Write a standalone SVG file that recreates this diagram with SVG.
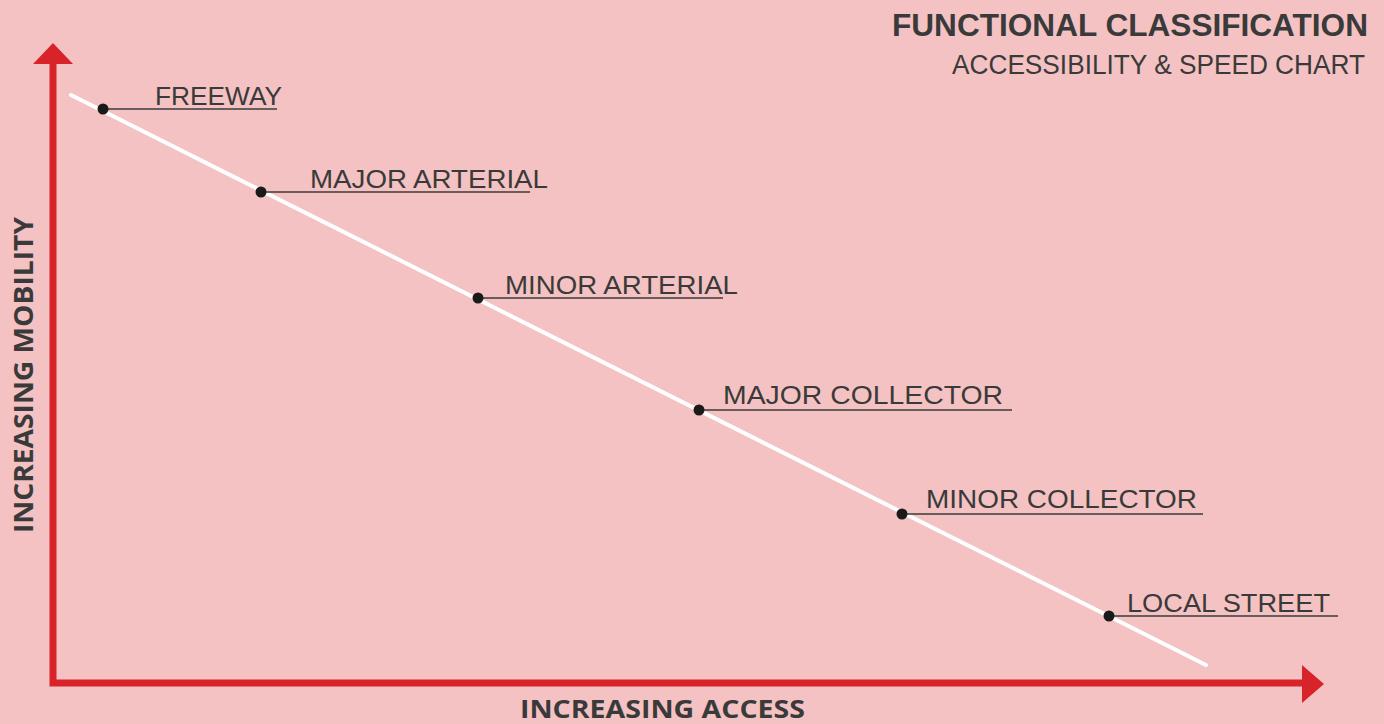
<svg xmlns="http://www.w3.org/2000/svg" width="1384" height="724" viewBox="0 0 1384 724">
  <style>
    .bg { fill: #F4C2C2; }
    .axis { stroke: #D8232A; stroke-width: 7; fill: none; }
    .head { fill: #D8232A; }
    .trend { stroke: #FFFFFF; stroke-width: 4; stroke-linecap: round; }
    .dot { fill: #1A1A1A; }
    .rule { stroke: #3A3A3A; stroke-width: 1.6; }
    .label { font-family: "Liberation Sans", Arial, sans-serif; font-size: 26px; fill: #3A3A3A; }
    .axis-label { font-family: "Open Sans", "Liberation Sans", sans-serif; font-weight: 700; font-size: 27px; fill: #3A3A3A; }
    .axis-label.bottom { font-size: 25px; }
    .title { font-family: "Liberation Sans", Arial, sans-serif; font-weight: 700; font-size: 31px; fill: #3A3A3A; }
    .subtitle { font-family: "Liberation Sans", Arial, sans-serif; font-size: 27px; fill: #3A3A3A; }
  </style>

  <rect class="bg" x="0" y="0" width="1384" height="724"/>

  <!-- heading -->
  <g id="title">
    <text class="title" x="892" y="36" textLength="476" lengthAdjust="spacingAndGlyphs">FUNCTIONAL CLASSIFICATION</text>
    <text class="subtitle" x="952" y="74" textLength="413" lengthAdjust="spacingAndGlyphs">ACCESSIBILITY &amp; SPEED CHART</text>
  </g>

  <!-- axes and the mobility/access trend line -->
  <g id="connectors">
    <path class="axis" d="M53 60 V683 H1304"/>
    <polygon class="head" points="53,43 73,64 33,64"/>
    <polygon class="head" points="1324,684 1302,665 1302,703"/>
    <line class="trend" x1="71" y1="95" x2="1206" y2="665"/>
  </g>

  <g id="axis-y">
    <text class="axis-label" transform="translate(33 533) rotate(-90)" textLength="316" lengthAdjust="spacingAndGlyphs">INCREASING MOBILITY</text>
  </g>
  <g id="axis-x">
    <text class="axis-label bottom" x="520" y="718" textLength="285" lengthAdjust="spacingAndGlyphs">INCREASING ACCESS</text>
  </g>

  <!-- road classes along the trend line -->
  <g id="freeway">
    <line class="rule" x1="103" y1="109" x2="277" y2="109"/>
    <circle class="dot" cx="103" cy="109" r="5.5"/>
    <text class="label" x="155" y="105" textLength="127" lengthAdjust="spacingAndGlyphs">FREEWAY</text>
  </g>
  <g id="major-arterial">
    <line class="rule" x1="261" y1="192" x2="530" y2="192"/>
    <circle class="dot" cx="261" cy="192" r="5.5"/>
    <text class="label" x="310" y="188" textLength="238" lengthAdjust="spacingAndGlyphs">MAJOR ARTERIAL</text>
  </g>
  <g id="minor-arterial">
    <line class="rule" x1="478" y1="298" x2="723" y2="298"/>
    <circle class="dot" cx="478" cy="298" r="5.5"/>
    <text class="label" x="505" y="294" textLength="233" lengthAdjust="spacingAndGlyphs">MINOR ARTERIAL</text>
  </g>
  <g id="major-collector">
    <line class="rule" x1="699" y1="410" x2="1012" y2="410"/>
    <circle class="dot" cx="699" cy="410" r="5.5"/>
    <text class="label" x="723" y="404" textLength="280" lengthAdjust="spacingAndGlyphs">MAJOR COLLECTOR</text>
  </g>
  <g id="minor-collector">
    <line class="rule" x1="902" y1="514" x2="1203" y2="514"/>
    <circle class="dot" cx="902" cy="514" r="5.5"/>
    <text class="label" x="926" y="508" textLength="271" lengthAdjust="spacingAndGlyphs">MINOR COLLECTOR</text>
  </g>
  <g id="local-street">
    <line class="rule" x1="1109" y1="616" x2="1338" y2="616"/>
    <circle class="dot" cx="1109" cy="616" r="5.5"/>
    <text class="label" x="1127" y="612" textLength="203" lengthAdjust="spacingAndGlyphs">LOCAL STREET</text>
  </g>
</svg>
